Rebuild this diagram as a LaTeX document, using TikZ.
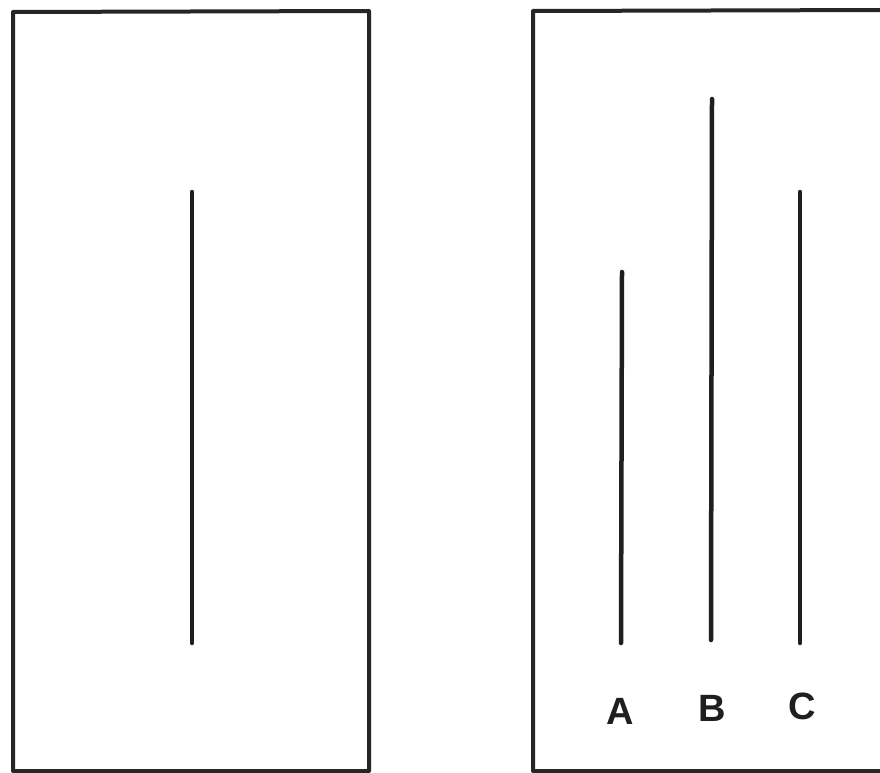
\documentclass[tikz,border=0pt]{standalone}
\usepackage{fontspec}
\setmainfont{Liberation Sans}
\begin{document}
\begin{tikzpicture}[x=1pt,y=-1pt,
  frame/.style={line width=4pt,draw=black!85,line join=round},
  stick/.style={line width=4.5pt,draw=black!88,line cap=round},
  letter/.style={font=\fontsize{38}{38}\bfseries\selectfont,text=black!88,inner sep=0pt}]
\useasboundingbox (0,0) rectangle (880,773);
\fill[white] (0,0) rectangle (880,773);
% frames
\draw[frame] (13,771) -- (13,12) -- (369,11) -- (369,771) -- cycle;
\draw[frame] (890,771) -- (533,771) -- (533,11) -- (890,10);
% standard line
\coordinate (s1) at (192,192);
\coordinate (s2) at (192,643);
\draw[stick] (s1) -- (s2);
% comparison lines
\coordinate (a1) at (622,272);
\coordinate (a2) at (621,643);
\coordinate (b1) at (712,99);
\coordinate (b2) at (711,640);
\coordinate (c1) at (800,192);
\coordinate (c2) at (800,643);
\draw[stick] (a1) -- (a2);
\draw[stick] (b1) -- (b2);
\draw[stick] (c1) -- (c2);
% labels
\node[letter] (la) at (620,711) {A};
\node[letter] (lb) at (712,708) {B};
\node[letter] (lc) at (802,706) {C};
\end{tikzpicture}
\end{document}
